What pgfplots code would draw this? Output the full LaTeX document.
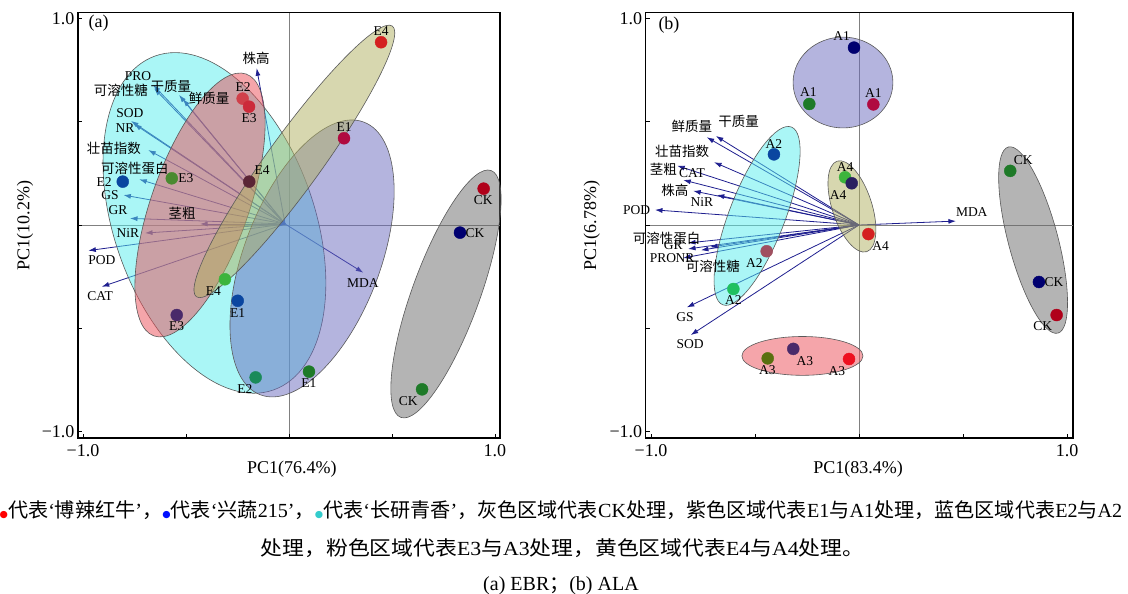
\documentclass[border=0pt]{standalone}
\usepackage{fontspec}
\setmainfont{Liberation Serif}
\newfontfamily\cjk{Noto Sans CJK SC}
\newfontfamily\dejavu{DejaVu Sans}
\usepackage{graphicx}
\usepackage{pgfplots}
\pgfplotsset{compat=1.18}
\usepackage{pgfplotstable}
\usetikzlibrary{arrows.meta}

% ellipse fills
\definecolor{ellcyan}{HTML}{55EEEE}
\definecolor{ellpink}{HTML}{EB4B55}
\definecolor{ellpurple}{HTML}{6969BD}
\definecolor{ellkhaki}{HTML}{AFAF5F}
\definecolor{ellgray}{HTML}{696969}
\definecolor{arrowblue}{HTML}{1F1F8F}
% point colours
\definecolor{cRed}{HTML}{D42020}
\definecolor{cRose}{HTML}{D0404A}
\definecolor{cRedB}{HTML}{CC2A3A}
\definecolor{cCrim}{HTML}{B00A40}
\definecolor{cDkRed}{HTML}{B0001A}
\definecolor{cNavy}{HTML}{000070}
\definecolor{cBlue}{HTML}{0A46A0}
\definecolor{cGreen}{HTML}{1E7A28}
\definecolor{cLime}{HTML}{3CB43C}
\definecolor{cOlive}{HTML}{4A8A30}
\definecolor{cTeal}{HTML}{1A8A5A}
\definecolor{cPurple}{HTML}{4A2A6A}
\definecolor{cMaroon}{HTML}{5A2535}
\definecolor{cMauve}{HTML}{A05060}
\definecolor{cBrGreen}{HTML}{20C060}
\definecolor{cOlvB}{HTML}{5A7010}
\definecolor{cRedC}{HTML}{EE1020}
\definecolor{cDkPur}{HTML}{2A2060}
% caption bullets
\definecolor{bRed}{HTML}{FF0000}
\definecolor{bBlue}{HTML}{0010FF}
\definecolor{bCyan}{HTML}{33CCCC}

\newcommand\lblfont{\fontsize{13.5}{15}\selectfont}
\newcommand\zhfont{\cjk\fontsize{13.5}{15}\selectfont}
\newcommand\bigfont{\fontsize{18}{20}\selectfont}
\newcommand\bul[1]{{\dejavu\fontsize{9.5}{10}\selectfont\color{#1}●}}

\tikzset{ell/.style={draw=black!65, line width=0.6pt, fill opacity=0.5}}

% ---------- (a) EBR ----------
\pgfplotstableread{
x y tx ty
-0.019 0.005 -0.157 0.759
-0.019 0.005 -0.659 0.678
-0.019 0.005 -0.655 0.662
-0.019 0.005 -0.534 0.630
-0.019 0.005 -0.515 0.610
-0.019 0.005 -0.767 0.504
-0.019 0.005 -0.752 0.489
-0.019 0.005 -0.683 0.363
-0.019 0.005 -0.727 0.221
-0.019 0.005 -0.804 0.145
-0.019 0.005 -0.772 0.032
-0.019 0.005 -0.432 0.005
-0.019 0.005 -0.699 -0.039
-0.019 0.005 -0.974 -0.124
-0.019 0.005 -0.909 -0.299
-0.019 0.005 0.361 -0.231
}\loadA

\pgfplotstableread{
x y t
-0.733 0.722 PRO
-0.772 0.542 SOD
-0.796 0.470 NR
-0.869 0.145 GS
-0.830 0.073 GR
-0.782 -0.039 NiR
-0.908 -0.169 POD
-0.917 -0.344 CAT
0.359 -0.281 MDA
-0.223 0.668 E2
-0.194 0.518 E3
-0.131 0.266 E4
-0.501 0.226 E3
-0.897 0.210 E2
0.447 0.941 E4
0.267 0.476 E1
0.943 0.121 CK
0.903 -0.037 CK
-0.367 -0.318 E4
-0.249 -0.425 E1
-0.545 -0.492 E3
-0.214 -0.796 E2
0.097 -0.764 E1
0.579 -0.852 CK
}\latA

\pgfplotstableread{
x y t
-0.160 0.809 株高
-0.573 0.673 干质量
-0.816 0.654 可溶性糖
-0.388 0.615 鲜质量
-0.850 0.373 壮苗指数
-0.748 0.276 可溶性蛋白
-0.519 0.058 茎粗
}\zhA

\pgfplotstableread{
x y c
-0.225 0.612 cRose
-0.194 0.573 cRedB
-0.193 0.210 cMaroon
-0.569 0.226 cOlive
-0.807 0.210 cBlue
0.447 0.885 cRed
0.267 0.420 cCrim
0.945 0.176 cDkRed
0.830 -0.037 cNavy
-0.311 -0.263 cLime
-0.249 -0.367 cBlue
-0.545 -0.436 cPurple
-0.162 -0.738 cTeal
0.097 -0.710 cGreen
0.646 -0.796 cGreen
}\ptsA

% ---------- (b) ALA ----------
\pgfplotstableread{
x y tx ty
0 0 -0.688 0.431
0 0 -0.732 0.425
0 0 -0.697 0.304
0 0 -0.874 0.287
0 0 -0.845 0.218
0 0 -0.797 0.165
0 0 -0.684 0.145
0 0 -0.981 0.073
0 0 -0.822 -0.087
0 0 -0.716 -0.107
0 0 -0.822 -0.116
0 0 -0.846 -0.160
0 0 -0.760 -0.122
0 0 -0.828 -0.399
0 0 -0.809 -0.533
0 0 0.466 0.019
}\loadB

\pgfplotstableread{
x y t
-0.803 0.250 CAT
-0.755 0.113 NiR
-1.069 0.073 POD
-0.893 -0.097 GR
-0.942 -0.160 PRO
-0.837 -0.160 NR
-0.837 -0.444 GS
-0.812 -0.576 SOD
0.542 0.064 MDA
-0.083 0.915 A1
-0.244 0.646 A1
0.069 0.641 A1
-0.409 0.392 A2
-0.067 0.282 A4
-0.100 0.145 A4
0.790 0.315 CK
0.104 -0.102 A4
0.938 -0.276 CK
0.883 -0.492 CK
-0.503 -0.186 A2
-0.604 -0.363 A2
-0.441 -0.702 A3
-0.260 -0.657 A3
-0.107 -0.706 A3
}\latB

\pgfplotstableread{
x y t
-0.579 0.504 干质量
-0.804 0.479 鲜质量
-0.851 0.355 壮苗指数
-0.941 0.271 茎粗
-0.885 0.166 株高
-0.925 -0.064 可溶性蛋白
-0.702 -0.202 可溶性糖
}\zhB

\pgfplotstableread{
x y c
-0.024 0.859 cNavy
-0.239 0.586 cGreen
0.069 0.584 cCrim
-0.409 0.342 cBlue
-0.067 0.231 cLime
-0.035 0.202 cDkPur
0.727 0.262 cGreen
0.045 -0.044 cRed
0.865 -0.276 cNavy
0.950 -0.436 cDkRed
-0.444 -0.127 cMauve
-0.604 -0.310 cBrGreen
-0.439 -0.646 cOlvB
-0.316 -0.600 cPurple
-0.048 -0.649 cRedC
}\ptsB

\pgfplotsset{
  pca/.style={
    scale only axis, height=425.3pt,
    ymin=-1.0315, ymax=1.0281,
    xtick={-1,-0.5,0,0.5,1}, ytick={-1,-0.5,0,0.5,1},
    xticklabels={{−1.0},{},{},{},{1.0}},
    yticklabels={{−1.0},{},{},{},{1.0}},
    tick align=inside, tick pos=left,
    major tick length=4pt,
    tick style={line width=0.8pt, black},
    axis line style={line width=1.1pt},
    ticklabel style={font=\bigfont},
    xticklabel style={yshift=-3pt},
    label style={font=\bigfont},
    extra x ticks={0}, extra y ticks={0},
    extra x tick labels={}, extra y tick labels={},
    extra tick style={grid=major, major grid style={line width=0.6pt, gray}},
    clip=false,
  },
  loads/.style={quiver={u=\thisrow{tx}-\thisrow{x}, v=\thisrow{ty}-\thisrow{y}},
    -{Latex[length=7.5pt,width=5pt]}, arrowblue, line width=0.8pt, mark=none},
  latlbl/.style={only marks, mark=none, point meta=explicit symbolic, nodes near coords,
    every node near coord/.style={anchor=center, inner sep=0pt, text=black, font=\lblfont}},
  zhlbl/.style={only marks, mark=none, point meta=explicit symbolic, nodes near coords,
    every node near coord/.style={anchor=center, inner sep=0pt, text=black, font=\zhfont}},
  dots/.style={scatter, only marks, mark=*, mark size=6pt, point meta=explicit symbolic,
    scatter/classes={cRed={cRed},cRose={cRose},cRedB={cRedB},cCrim={cCrim},cDkRed={cDkRed},
      cNavy={cNavy},cBlue={cBlue},cGreen={cGreen},cLime={cLime},cOlive={cOlive},cTeal={cTeal},
      cPurple={cPurple},cMaroon={cMaroon},cMauve={cMauve},cBrGreen={cBrGreen},cOlvB={cOlvB},
      cRedC={cRedC},cDkPur={cDkPur}}},
}

\begin{document}
\begin{tikzpicture}
\useasboundingbox (0pt,0pt) rectangle (1128pt,594pt);

% ---------------- panel (a) ----------------
\begin{axis}[pca, at={(78pt,156pt)}, anchor=south west, width=422pt,
  xmin=-1.0243, xmax=1.0243,
  xlabel={PC1(76.4\%)}, ylabel={PC1(10.2\%)},
  xlabel style={at={(axis description cs:0.507,-0.073)}, anchor=center},
  ylabel style={at={(axis description cs:-0.1256,0.5)}, anchor=center}]
\addplot[loads] table {\loadA};
\addplot[latlbl] table[meta=t] {\latA};
\addplot[zhlbl] table[meta=t] {\zhA};
\draw[ell, fill=ellcyan, rotate around={109.5:(axis cs:-0.362,0.010)}]
  (axis cs:-0.362,0.010) ellipse [x radius=0.86, y radius=0.485];
\draw[ell, fill=ellpink, rotate around={70.6:(axis cs:-0.432,0.097)}]
  (axis cs:-0.432,0.097) ellipse [x radius=0.674, y radius=0.236];
\draw[ell, fill=ellpurple, rotate around={69.2:(axis cs:0.112,-0.162)}]
  (axis cs:0.112,-0.162) ellipse [x radius=0.708, y radius=0.330];
\draw[ell, fill=ellkhaki, rotate around={54.1:(axis cs:0.026,0.308)}]
  (axis cs:0.026,0.308) ellipse [x radius=0.811, y radius=0.131];
\draw[ell, fill=ellgray, rotate around={69.9:(axis cs:0.762,-0.334)}]
  (axis cs:0.762,-0.334) ellipse [x radius=0.638, y radius=0.163];
\addplot[dots] table[meta=c] {\ptsA};
\node[font=\bigfont] at (rel axis cs:0.0486,0.9746) {(a)};
\end{axis}

% ---------------- panel (b) ----------------
\begin{axis}[pca, at={(645.7pt,156pt)}, anchor=south west, width=427.3pt,
  xmin=-1.0255, xmax=1.0288,
  xlabel={PC1(83.4\%)}, ylabel={PC1(6.78\%)},
  xlabel style={at={(axis description cs:0.497,-0.073)}, anchor=center},
  ylabel style={at={(axis description cs:-0.126,0.5)}, anchor=center}]
\addplot[loads] table {\loadB};
\addplot[latlbl] table[meta=t] {\latB};
\addplot[zhlbl] table[meta=t] {\zhB};
\draw[ell, fill=ellpurple] (axis cs:-0.077,0.690) ellipse [x radius=0.240, y radius=0.220];
\draw[ell, fill=ellcyan, rotate around={68.9:(axis cs:-0.490,0.044)}]
  (axis cs:-0.490,0.044) ellipse [x radius=0.458, y radius=0.135];
\draw[ell, fill=ellkhaki, rotate around={108.1:(axis cs:-0.034,0.090)}]
  (axis cs:-0.034,0.090) ellipse [x radius=0.229, y radius=0.096];
\draw[ell, fill=ellgray, rotate around={104.9:(axis cs:0.837,-0.073)}]
  (axis cs:0.837,-0.073) ellipse [x radius=0.463, y radius=0.120];
\draw[ell, fill=ellpink] (axis cs:-0.272,-0.634) ellipse [x radius=0.291, y radius=0.094];
\addplot[dots] table[meta=c] {\ptsB};
\node[font=\bigfont] at (rel axis cs:0.0545,0.971) {(b)};
\end{axis}

% ---------------- caption ----------------
\node[anchor=base, font=\fontsize{20}{24}\selectfont, inner sep=0pt] at (561pt,76.4pt)
{\scalebox{1.006}[1]{\bul{bRed}{\cjk 代表}‘{\cjk 博辣红牛}’{\cjk ，}\bul{bBlue}{\cjk 代表}‘{\cjk 兴蔬}215’{\cjk ，}\bul{bCyan}{\cjk 代表}‘{\cjk 长研青香}’{\cjk ，灰色区域代表}CK{\cjk 处理，紫色区域代表}E1{\cjk 与}A1{\cjk 处理，蓝色区域代表}E2{\cjk 与}A2}};
\node[anchor=base, font=\fontsize{20}{24}\selectfont, inner sep=0pt] at (562.5pt,38.4pt)
{\scalebox{1.09}[1]{{\cjk 处理，粉色区域代表}E3{\cjk 与}A3{\cjk 处理，黄色区域代表}E4{\cjk 与}A4{\cjk 处理。}}};
\node[anchor=base, font=\fontsize{20}{24}\selectfont, inner sep=0pt] at (561pt,3pt)
{(a) EBR{\cjk ；}(b) ALA};
\end{tikzpicture}
\end{document}
